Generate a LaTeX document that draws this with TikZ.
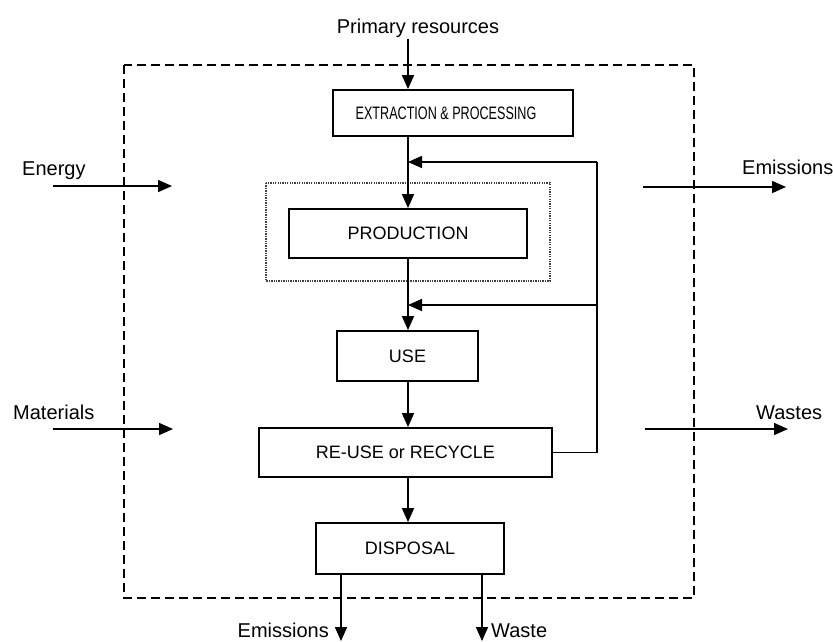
\documentclass[tikz,border=0pt]{standalone}
\usepackage{fontspec}
\setmainfont{Liberation Sans}
\usetikzlibrary{arrows.meta}
\begin{document}
\begin{tikzpicture}[x=1pt,y=-1pt,
  stage/.style={draw, line width=1.8pt, inner sep=0pt,
    font=\fontsize{18}{21}\selectfont},
  flow/.style={line width=1.6pt, -{Triangle[length=14pt,width=12pt]}},
  plain/.style={line width=1.6pt},
  lbl/.style={font=\fontsize{20}{24}\selectfont, inner sep=0pt},
  boundary/.style={line width=1.8pt, dash pattern=on 9pt off 5pt},
  focus/.style={line width=1.2pt, black!75, dash pattern=on 1.3pt off 1.1pt}]
\useasboundingbox (0,0) rectangle (833,641);

% system boundary and highlighted production area
\draw[boundary] (124,65) rectangle (694,598);
\draw[focus] (266,183) rectangle (550,281);

% life-cycle stages
\node[stage, minimum width=240, minimum height=46] (extract) at (453,113)
  {\hspace*{-14pt}\scalebox{0.7}[1]{EXTRACTION \& PROCESSING}};
\node[stage, minimum width=238, minimum height=49] (prod) at (408,233.5) {PRODUCTION};
\node[stage, minimum width=141, minimum height=50] (use) at (407.5,356) {USE};
\node[stage, minimum width=293, minimum height=49] (reuse) at (405.5,452.5) {RE-USE or RECYCLE};
\node[stage, minimum width=188, minimum height=51] (disp) at (410,548.5) {DISPOSAL};

% main column
\coordinate (col) at (408,0);
\node[lbl, anchor=base] (primary) at (418,33) {Primary resources};
\coordinate (prin) at (408,39);
\draw[flow] (prin) -- (col |- extract.north);
\draw[flow] (col |- extract.south) -- (col |- prod.north);
\draw[flow] (col |- prod.south) -- (col |- use.north);
\draw[flow] (col |- use.south) -- (col |- reuse.north);
\draw[flow] (col |- reuse.south) -- (col |- disp.north);

% recycling loop
\coordinate (fbtop) at (597,162);
\coordinate (fbmid) at (597,305);
\draw[plain] (reuse.east) -| (fbtop);
\draw[flow] (fbtop) -- (col |- fbtop);
\draw[flow] (fbmid) -- (col |- fbmid);

% inputs
\node[lbl, anchor=base west] (energy) at (22,175) {Energy};
\coordinate (energyA) at (53,186);
\coordinate (energyB) at (172,186);
\draw[flow] (energyA) -- (energyB);
\node[lbl, anchor=base west] (materials) at (13,419) {Materials};
\coordinate (matA) at (53,429);
\coordinate (matB) at (173,429);
\draw[flow] (matA) -- (matB);

% outputs
\node[lbl, anchor=base west] (emis) at (742,174) {Emissions};
\coordinate (emisA) at (643,187);
\coordinate (emisB) at (786,187);
\draw[flow] (emisA) -- (emisB);
\node[lbl, anchor=base west] (wastes) at (756,419) {Wastes};
\coordinate (wastesA) at (645,429);
\coordinate (wastesB) at (788,429);
\draw[flow] (wastesA) -- (wastesB);

% disposal outputs
\coordinate (dl) at (341,0);
\coordinate (dr) at (482,0);
\coordinate (dlend) at (341,641);
\coordinate (drend) at (482,641);
\draw[flow] (dl |- disp.south) -- (dlend);
\draw[flow] (dr |- disp.south) -- (drend);
\node[lbl, anchor=base east] (emisout) at (329,637) {Emissions};
\node[lbl, anchor=base west] (waste) at (491,637) {Waste};
\end{tikzpicture}
\end{document}
